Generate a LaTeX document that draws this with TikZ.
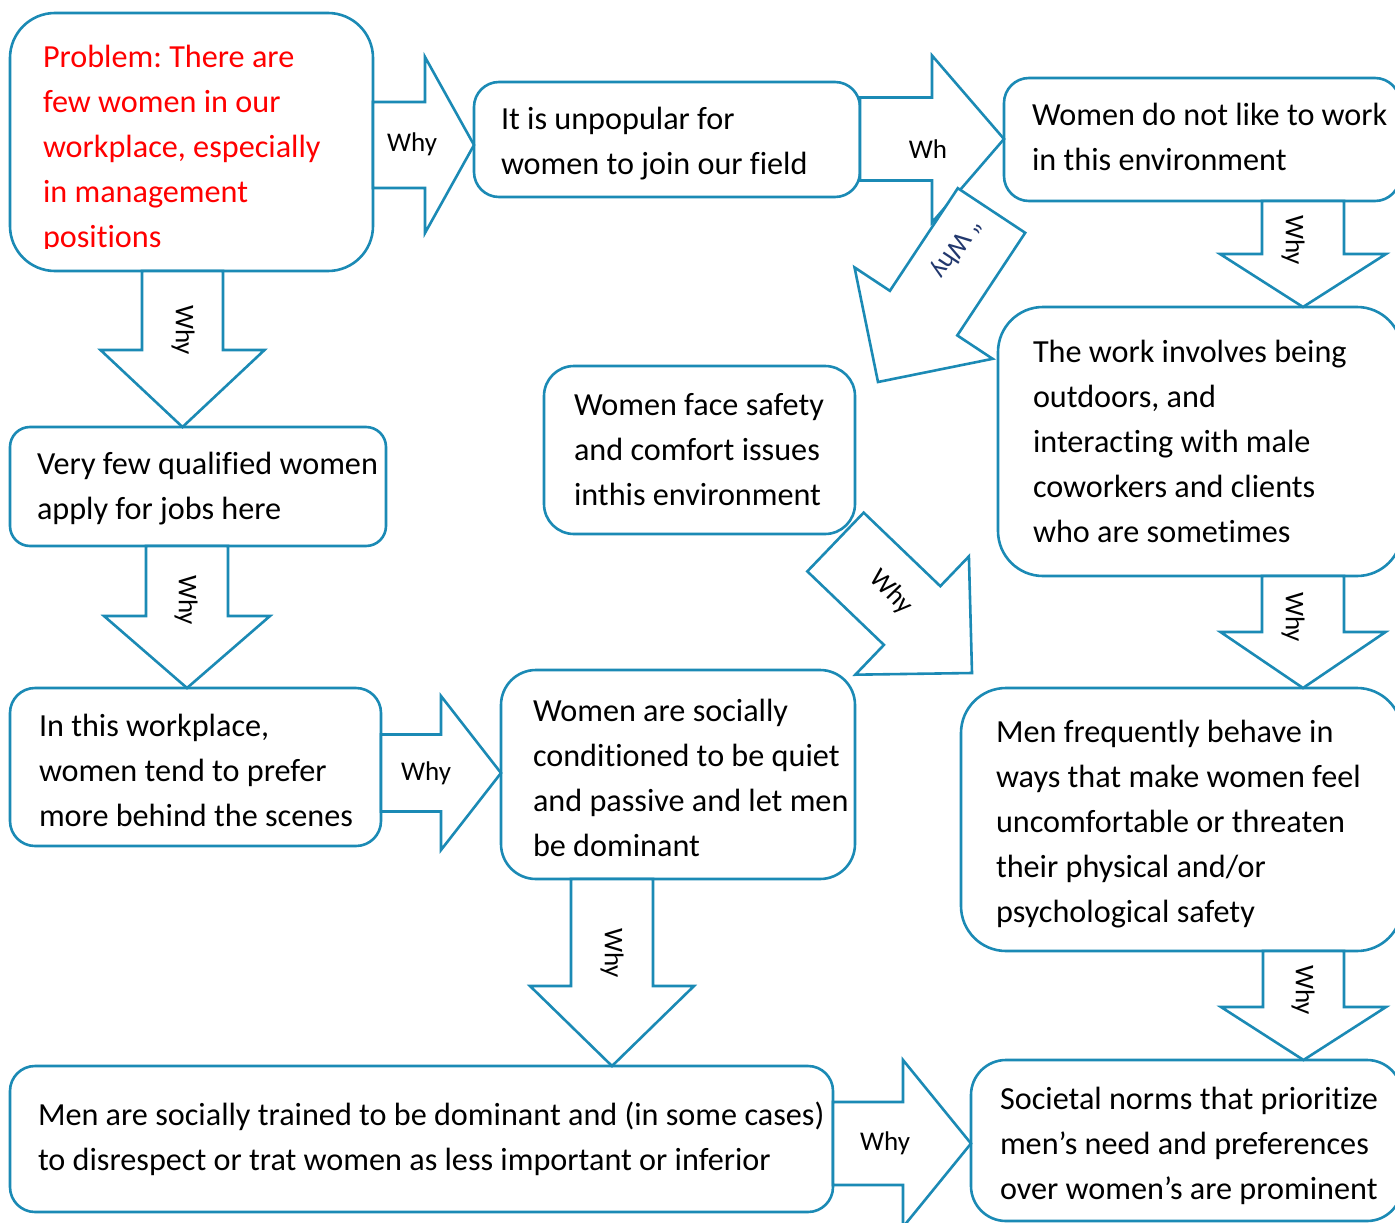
\documentclass[tikz,border=0pt]{standalone}
\usepackage{fontspec}
\setmainfont{Carlito}[Ligatures=NoCommon]
\usetikzlibrary{calc}

\definecolor{flowblue}{HTML}{1B8AB5}
\definecolor{probred}{HTML}{FF0000}
\definecolor{inkblue}{HTML}{22386E}

\tikzset{
  box/.style={draw=flowblue, line width=2.6pt, rounded corners=#1, fill=white,
    inner sep=0pt, outer sep=0pt, anchor=north west},
  box/.default=30pt,
  boxtext/.style={anchor=north west, inner sep=0pt, outer sep=0pt, align=left,
    font=\fontsize{32.2}{45}\selectfont},
  whylabel/.style={inner sep=0pt, font=\fontsize{27}{30}\selectfont},
  arrowbody/.style={draw=flowblue, line width=2.6pt, fill=white, line join=miter},
}

% rounded box given by its corners (x1,y1) (x2,y2), y measured downwards
\newcommand\flowbox[6]{%
  \node[box=#6, minimum width={(#4-#2)*1pt}, minimum height={(#5-#3)*1pt}]
    (#1) at (#2,#3) {};}

% block arrow: start, tip, shaft half width, head half width, head length, name
\newcommand\blockarrow[6]{%
  \coordinate (#6h) at ($(#2)!#5!(#1)$);
  \draw[arrowbody] ($(#1)!#3!90:(#2)$) -- ($(#6h)!#3!90:(#2)$)
    -- ($(#6h)!#4!90:(#2)$) -- (#2) -- ($(#6h)!#4!-90:(#2)$)
    -- ($(#6h)!#3!-90:(#2)$) -- ($(#1)!#3!-90:(#2)$) -- cycle;}

\newcommand\firstline{\rule{0pt}{30pt}}

\frenchspacing
\begin{document}
\begin{tikzpicture}[x=1pt, y=-1pt]
\useasboundingbox (0,0) rectangle (1395,1223);
\clip (0,0) rectangle (1395,1223);
\fill[white] (0,0) rectangle (1395,1223);

% boxes
\flowbox{b1}{10}{13}{373}{271}{45pt}
\flowbox{b2}{474}{82}{860}{197}{25pt}
\flowbox{b3}{1004}{78}{1400}{201}{25pt}
\flowbox{b4}{998}{307}{1402}{576}{45pt}
\flowbox{b5}{544}{366}{855}{534}{30pt}
\flowbox{b6}{10}{427}{386}{546}{20pt}
\flowbox{b7}{10}{688}{381}{846}{25pt}
\flowbox{b8}{501}{670}{855}{879}{35pt}
\flowbox{b9}{961}{688}{1402}{951}{45pt}
\flowbox{b10}{10}{1066}{833}{1212}{25pt}
\flowbox{b11}{971}{1060}{1402}{1221}{35pt}

% box texts
\begin{scope}
  \clip (10,13) rectangle (373,248);
  \node[boxtext, text=probred] (t1) at (43,37) {\firstline Problem: There are\\few women in our\\workplace, especially\\in management\\positions};
\end{scope}
\node[boxtext] (t2) at (501,99) {\firstline It is unpopular for\\women to join our field};
\node[boxtext] (t3) at (1032,95) {\firstline Women do not like to work\\in this environment};
\node[boxtext] (t4) at (1033,332) {\firstline The work involves being\\outdoors, and\\interacting with male\\coworkers and clients\\who are sometimes};
\node[boxtext] (t5) at (574,385) {\firstline Women face safety\\and comfort issues\\inthis environment};
\node[boxtext] (t6) at (37,444) {\firstline Very few qualified women\\apply for jobs here};
\node[boxtext] (t7) at (39,706) {\firstline In this workplace,\\women tend to prefer\\more behind the scenes};
\node[boxtext] (t8) at (533,691) {\firstline Women are socially\\conditioned to be quiet\\and passive and let men\\be dominant};
\node[boxtext] (t9) at (996,712) {\firstline Men frequently behave in\\ways that make women feel\\uncomfortable or threaten\\their physical and/or\\psychological safety};
\node[boxtext] (t10) at (38,1095) {\firstline Men are socially trained to be dominant and (in some cases)\\to disrespect or trat women as less important or inferior};
\node[boxtext] (t11) at (1000,1079) {\firstline Societal norms that prioritize\\men’s need and preferences\\over women’s are prominent};

% block arrows between the boxes
\coordinate (a3s) at (991.5,210.5);
\coordinate (a3t) at (878,382);
\coordinate (a8s) at (835.5,542);
\coordinate (a8t) at (972,673);

\blockarrow{b1.east |- 0,145}{b2.west |- 0,145}{43pt}{88pt}{49pt}{a1}
\blockarrow{b2.east |- 0,139}{b3.west |- 0,139}{41.5pt}{83.5pt}{72pt}{a2}
\blockarrow{a3s}{a3t}{40.4pt}{82.8pt}{82.6pt}{a3}
\blockarrow{1303,0 |- b3.south}{1303,0 |- b4.north}{41pt}{83pt}{53pt}{a4}
\blockarrow{182.5,0 |- b1.south}{182.5,0 |- b6.north}{40.5pt}{82pt}{77pt}{a5}
\blockarrow{187,0 |- b6.south}{187,0 |- b7.north}{41pt}{83pt}{72pt}{a6}
\blockarrow{b7.east |- 0,773}{b8.west |- 0,773}{38.5pt}{77pt}{60pt}{a7}
\blockarrow{a8s}{a8t}{40.7pt}{82pt}{83pt}{a8}
\blockarrow{1303,0 |- b4.south}{1303,0 |- b9.north}{41pt}{82.5pt}{56pt}{a9}
\blockarrow{612,0 |- b8.south}{612,0 |- b10.north}{41pt}{82pt}{80pt}{a10}
\blockarrow{1303.5,0 |- b9.south}{1303.5,0 |- b11.north}{40.5pt}{82.5pt}{53pt}{a11}
\blockarrow{b10.east |- 0,1143.5}{b11.west |- 0,1143.5}{41.5pt}{83.5pt}{68pt}{a12}

% arrow labels
\node[whylabel] (l1) at (412,144) {Why};
\node[whylabel] (l2) at (928,149) {Wh};
\node[whylabel, text=inkblue, rotate=-123.5] (l3) at (956,248) {“ Why};
\node[whylabel, rotate=-90] (l4) at (1293,240) {Why};
\node[whylabel, rotate=-90] (l5) at (183,330) {Why};
\node[whylabel, rotate=-90] (l6) at (186,600) {Why};
\node[whylabel] (l7) at (426,773) {Why};
\node[whylabel, rotate=-46] (l8) at (891,592) {Why};
\node[whylabel, rotate=-90] (l9) at (1293,617) {Why};
\node[whylabel, rotate=-90] (l10) at (612,953) {Why};
\node[whylabel, rotate=-90] (l11) at (1303,990) {Why};
\node[whylabel] (l12) at (885,1143) {Why};
\end{tikzpicture}
\end{document}
